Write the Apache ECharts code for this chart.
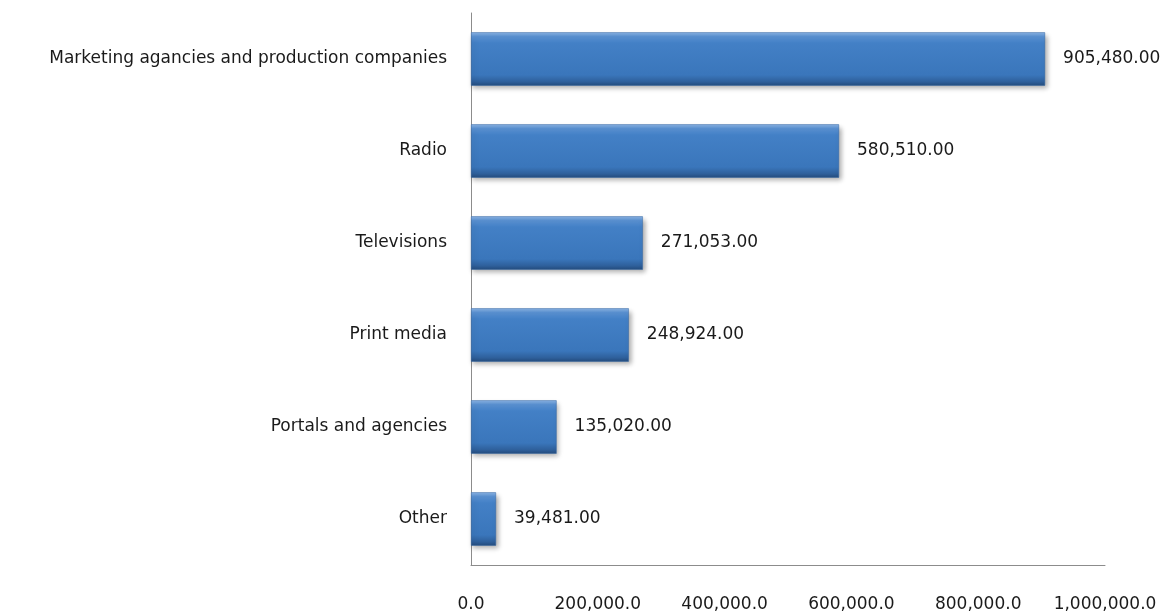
<!DOCTYPE html>
<html>
<head>
<meta charset="utf-8">
<script src="https://cdn.jsdelivr.net/npm/echarts@6/dist/echarts.min.js"></script>
<style>
  html, body { margin: 0; padding: 0; background: #fff; }
  #chart { width: 1162px; height: 613px; }
</style>
</head>
<body>
<div id="chart"></div>
<script>
// Categories listed bottom-to-top (ECharts category y-axis starts at the bottom)
const categories = [
  'Other',
  'Portals and agencies',
  'Print media',
  'Televisions',
  'Radio',
  'Marketing agancies and production companies'
];
const values = [39481, 135020, 248924, 271053, 580510, 905480];
const axisMax = 1000000;
const axisStep = 200000;

function withCommas(n, digits) {
  const parts = n.toFixed(digits).split('.');
  parts[0] = parts[0].replace(/\B(?=(\d{3})+(?!\d))/g, ',');
  return parts.join('.');
}

const font = '"DejaVu Sans", sans-serif';

const chart = echarts.init(document.getElementById('chart'), null, { renderer: 'canvas' });
chart.setOption({
  animation: false,
  grid: { left: 471, right: 57, top: 13, bottom: 48, containLabel: false },
  xAxis: {
    type: 'value',
    min: 0,
    max: axisMax,
    interval: axisStep,
    axisLine: { show: true, lineStyle: { color: '#8c8c8c', width: 1 } },
    axisTick: { show: false },
    splitLine: { show: false },
    axisLabel: {
      margin: 31,
      color: '#1a1a1a',
      fontFamily: font,
      fontSize: 17,
      formatter: v => withCommas(v, 1)
    }
  },
  yAxis: {
    type: 'category',
    data: categories,
    axisLine: { show: true, lineStyle: { color: '#8c8c8c', width: 1 } },
    axisTick: { show: false },
    axisLabel: {
      margin: 24,
      color: '#1a1a1a',
      fontFamily: font,
      fontSize: 17
    }
  },
  series: [{
    type: 'bar',
    data: values,
    barWidth: '58%',
    itemStyle: {
      color: {
        type: 'linear', x: 0, y: 0, x2: 0, y2: 1,
        colorStops: [
          { offset: 0, color: '#8db6e6' },
          { offset: 0.08, color: '#5a92d3' },
          { offset: 0.2, color: '#4380c6' },
          { offset: 0.8, color: '#3a76bb' },
          { offset: 0.92, color: '#2f619d' },
          { offset: 1, color: '#254d7e' }
        ]
      },
      borderColor: '#3566a3',
      borderWidth: 0.5,
      shadowColor: 'rgba(0,0,0,0.35)',
      shadowBlur: 5,
      shadowOffsetX: 2,
      shadowOffsetY: 3
    },
    label: {
      show: true,
      position: 'right',
      distance: 18,
      color: '#1a1a1a',
      fontFamily: font,
      fontSize: 17,
      formatter: p => withCommas(p.value, 2)
    }
  }]
});
</script>
</body>
</html>
